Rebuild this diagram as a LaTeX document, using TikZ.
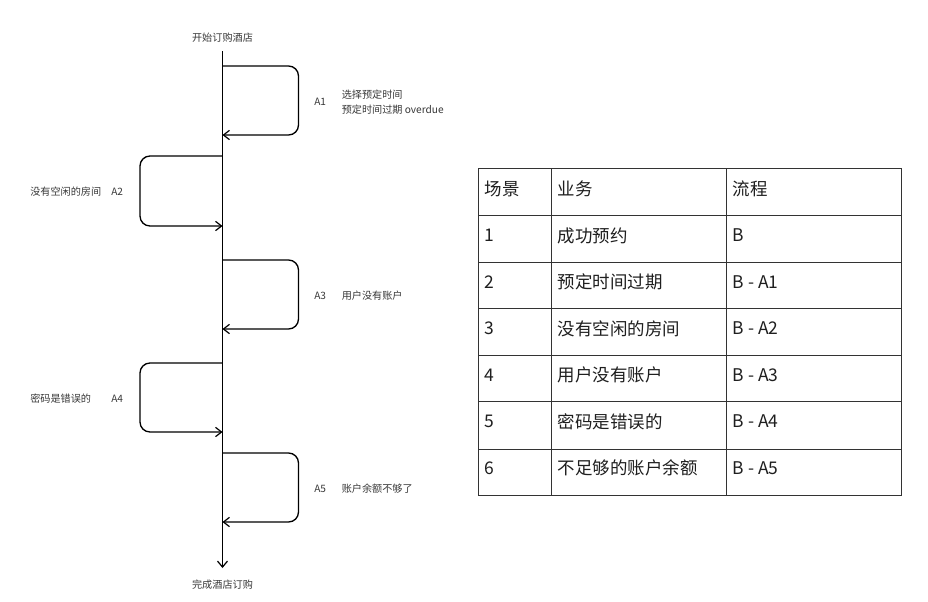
\documentclass[tikz,border=0pt]{standalone}
\usepackage{fontspec}
\setmainfont{Noto Sans CJK SC}
\usetikzlibrary{arrows.meta}
\tikzset{
  flowline/.style={draw=black,line width=1pt,rounded corners=7.5pt,-{Straight Barb[length=4.5pt,width=7pt,line width=0.9pt]}},
  spine/.style={draw=black,line width=1pt,-{Straight Barb[length=4.5pt,width=7.5pt,line width=0.9pt]}},
  small/.style={inner sep=0pt,text=black!78,font=\fontsize{7.6pt}{11.5pt}\selectfont,anchor=west,align=left},
  cell/.style={inner sep=0pt,text=black!88,font=\fontsize{13.1pt}{15pt}\selectfont,anchor=west},
  grid/.style={draw=black!80,line width=0.75pt}
}
\begin{document}
\begin{tikzpicture}[x=0.75pt,y=-0.75pt]
\useasboundingbox (0,0) rectangle (928,601);
\fill[white] (0,0) rectangle (928,601);
% spine
\node[small,anchor=center] (start) at (222.5,37.5) {开始订购酒店};
\node[small,anchor=center] (finish) at (222.5,584.5) {完成酒店订购};
\coordinate (top) at (222.5,51);
\coordinate (bottom) at (222.5,568);
\draw[spine] (top) -- (bottom);
% loops
\foreach \n/\ya/\yb/\xx in {a1/66/135/298.5,a2/156/226/140,a3/260/329/298.5,a4/363/432/140,a5/453/522/298.5}{
  \coordinate (\n s) at (222.5,\ya);
  \coordinate (\n e) at (222.5,\yb);
  \draw[flowline] (\n s) -- (\xx,\ya) -- (\xx,\yb) -- (\n e);
}
% labels
\node[small] (la1) at (314,102) {A1};
\node[small] (ta1) at (341.5,102) {选择预定时间\\预定时间过期 overdue};
\node[small] (ta2) at (30,192) {没有空闲的房间};
\node[small] (la2) at (111,192) {A2};
\node[small] (la3) at (314,295.5) {A3};
\node[small] (ta3) at (341.5,295.5) {用户没有账户};
\node[small] (ta4) at (30,398.5) {密码是错误的};
\node[small] (la4) at (111,398.5) {A4};
\node[small] (la5) at (314,489) {A5};
\node[small] (ta5) at (341.5,489) {账户余额不够了};
% table
\draw[grid] (478,168) rectangle (901,495);
\foreach \y in {215,262,308,355,401,449}{\draw[grid] (478,\y) -- (901,\y);}
\foreach \x in {551,726}{\draw[grid] (\x,168) -- (\x,495);}
\foreach \i/\y/\a/\b/\c in {
  0/189/场景/业务/流程,
  1/235.5/1/成功预约/B,
  2/282/2/预定时间过期/B - A1,
  3/328.5/3/没有空闲的房间/B - A2,
  4/375/4/用户没有账户/B - A3,
  5/421.5/5/密码是错误的/B - A4,
  6/468/6/不足够的账户余额/B - A5}{
  \node[cell] (c\i a) at (484.5,\y) {\a};
  \node[cell] (c\i b) at (557.5,\y) {\b};
  \node[cell] (c\i c) at (732.5,\y) {\c};
}
\end{tikzpicture}
\end{document}
